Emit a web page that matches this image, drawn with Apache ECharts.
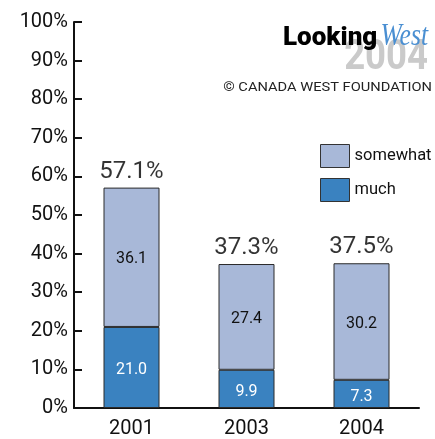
<!DOCTYPE html>
<html><head><meta charset="utf-8">
<script src="https://cdn.jsdelivr.net/npm/echarts@6/dist/echarts.min.js"></script>
<style>html,body{margin:0;padding:0;background:#fff}#c{width:435px;height:439px}</style>
</head><body><div id="c"></div>
<script>
const categories = ['2001', '2003', '2004'];
const much = [21.0, 9.9, 7.3];
const somewhat = [36.1, 27.4, 30.2];
const totals = [57.1, 37.3, 37.5];
const yTicks = [0, 10, 20, 30, 40, 50, 60, 70, 80, 90, 100];

const chart = echarts.init(document.getElementById('c'), null, {renderer: 'canvas'});
const font = 'Roboto, "Liberation Sans", sans-serif';
chart.setOption({
  animation: false,
  textStyle: {fontFamily: font},
  grid: {left: 74, right: 16, top: 22, bottom: 30, containLabel: false},
  legend: {
    data: ['somewhat', 'much'],
    orient: 'vertical', left: 315, top: 139,
    icon: 'rect',
    itemWidth: 29, itemHeight: 23, itemGap: 10,
    textStyle: {fontSize: 16.5, color: '#111', fontFamily: font},
    itemStyle: {borderColor: '#333', borderWidth: 1}
  },
  xAxis: {
    type: 'category', data: categories,
    axisLine: {lineStyle: {color: '#111', width: 2}},
    axisTick: {inside: true, length: 8, lineStyle: {color: '#111', width: 2}},
    axisLabel: {fontSize: 20, color: '#111', margin: 11, fontFamily: font}
  },
  yAxis: {
    type: 'value', min: 0, max: 100, interval: 10,
    axisLine: {show: true, lineStyle: {color: '#111', width: 2}},
    axisTick: {show: true, inside: true, length: 8, lineStyle: {color: '#111', width: 2}},
    splitLine: {show: false},
    axisLabel: {fontSize: 20, color: '#111', margin: 6, fontFamily: font,
      formatter: v => yTicks.includes(v) ? v + '%' : ''}
  },
  series: [
    {name: 'much', type: 'bar', stack: 't', barWidth: 56, data: much,
      itemStyle: {color: '#3a82c0', borderColor: '#2a2a2a', borderWidth: 1},
      label: {show: true, position: 'inside', offset: [0, 3], color: '#fff', fontSize: 16, fontFamily: font,
        formatter: p => p.value.toFixed(1)}},
    {name: 'somewhat', type: 'bar', stack: 't', barWidth: 56, data: somewhat,
      itemStyle: {color: '#a8b8d8', borderColor: '#2a2a2a', borderWidth: 1},
      label: {show: true, position: 'inside', offset: [0, 2], color: '#111', fontSize: 16, fontFamily: font,
        formatter: p => p.value.toFixed(1)}},
    {name: 'total', type: 'scatter', data: totals, symbolSize: 0.01, silent: true,
      label: {show: true, position: 'top', distance: 4, color: '#000', fontSize: 24, fontFamily: font,
        formatter: p => p.value.toFixed(1) + '%'}}
  ],
  graphic: [
    {type: 'text', x: 428, y: 58, scaleX: 0.87, z: 1, style: {text: '2004', fill: '#cacaca',
      font: 'bold 42px ' + font, align: 'right', verticalAlign: 'middle'}},
    {type: 'text', x: 283, y: 38, z: 2, style: {text: 'Looking', fill: '#000',
      font: '900 26px ' + font, align: 'left', verticalAlign: 'middle'}},
    {type: 'text', x: 428, y: 37, scaleX: 0.8, z: 2, style: {text: 'West', fill: '#4a8fd2',
      font: 'italic 32px "Liberation Serif", serif', align: 'right', verticalAlign: 'middle'}},
    {type: 'text', x: 432, y: 88, scaleX: 1.22, z: 2, style: {text: '© CANADA WEST FOUNDATION', fill: '#222',
      font: '12px ' + font, align: 'right', verticalAlign: 'middle'}}
  ]
});
</script></body></html>
